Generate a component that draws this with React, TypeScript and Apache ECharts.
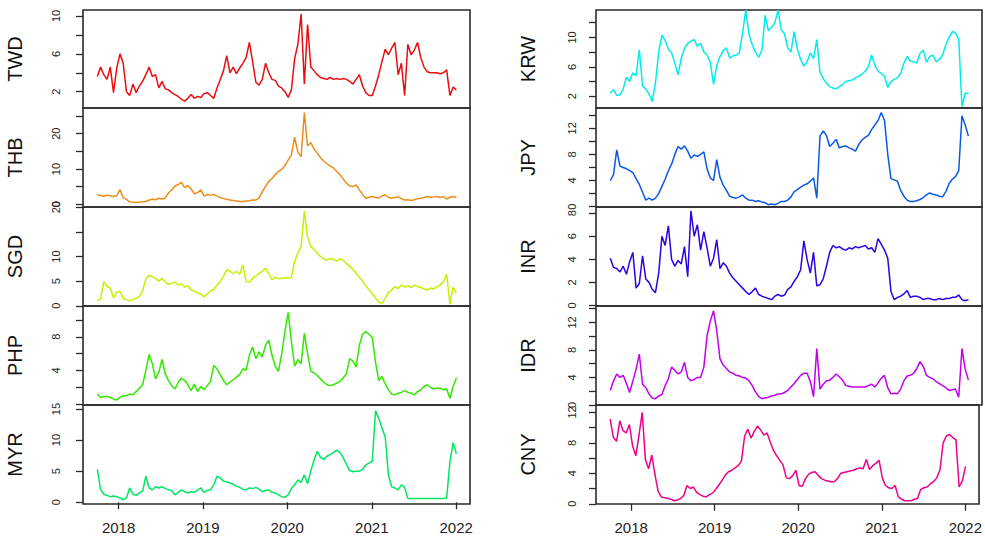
import React, { useEffect, useRef } from "react";
import * as echarts from "echarts";

// ---------- DATA ----------
const DAY = 86400000;
const START = Date.UTC(2017, 9, 1);
const N = 112;
const dates: number[] = Array.from({ length: N }, (_, i) => START + i * 14 * DAY);

const yearTicks = [2018, 2019, 2020, 2021, 2022];

const TWD = [3.6,4.6,3.8,3.3,4.6,1.9,4.5,6.0,5.0,2.0,
1.6,2.8,1.9,2.6,3.1,3.8,4.6,3.6,3.8,2.4,
3.1,2.3,2.2,1.9,1.7,1.5,1.2,1.0,1.3,1.7,
1.3,1.5,1.4,1.8,1.9,1.6,1.3,2.4,3.3,4.2,
5.8,4.0,4.6,3.9,4.5,5.0,5.6,7.2,5.2,3.0,
2.7,3.3,5.0,4.0,3.3,3.2,2.6,2.4,2.0,1.4,
2.2,5.5,7.0,10.2,2.8,9.1,4.6,4.2,3.8,3.5,
3.4,3.3,3.5,3.3,3.4,3.3,3.4,3.3,3.1,2.8,
3.3,3.8,2.6,1.9,1.6,1.6,2.6,3.8,5.2,6.5,
5.9,6.6,7.2,3.8,5.0,1.6,7.0,5.9,6.4,7.2,
5.6,4.6,4.1,4.0,4.0,4.0,3.9,4.0,4.3,1.6,
2.5,2.2];

const THB = [2.7,2.5,2.3,2.6,2.4,2.2,2.4,4.2,1.8,1.4,
0.7,0.6,0.5,0.6,0.7,0.8,1.2,1.4,1.3,1.7,
1.5,1.8,3.2,4.1,5.2,5.6,6.2,4.7,5.3,4.3,
3.0,3.3,4.1,2.3,2.8,2.6,2.8,2.3,1.9,1.6,
1.4,1.2,1.1,0.9,0.8,0.8,0.9,1.0,1.2,1.2,
1.8,3.6,5.1,6.5,7.3,8.4,9.3,9.9,11.0,12.5,
14.0,19.0,14.8,13.5,26.0,16.5,17.5,15.6,14.5,13.2,
12.2,11.5,10.8,10.3,9.3,8.4,7.2,6.0,5.2,5.0,
5.5,4.1,2.8,1.7,2.0,2.2,1.9,1.8,2.4,2.7,
2.0,1.7,1.9,2.1,1.6,1.2,1.3,1.1,1.3,1.6,
1.7,1.9,2.2,2.0,2.1,2.2,1.9,2.2,1.5,2.0,
2.2,2.0];

const SGD = [1.0,1.4,4.9,3.9,3.6,1.6,2.8,2.9,1.5,1.2,
1.0,1.3,1.5,1.9,3.0,5.5,6.2,5.9,5.5,5.0,
5.6,4.8,4.3,4.6,4.8,4.2,4.5,3.8,4.0,3.3,
2.9,2.6,2.4,1.8,2.4,3.0,3.3,4.2,4.9,6.0,
7.3,7.0,6.5,7.0,6.4,8.3,4.9,4.8,5.6,6.0,
6.6,7.0,7.6,6.5,5.3,5.8,5.5,5.6,5.7,5.6,
5.8,9.0,10.8,12.0,19.2,14.0,12.0,11.5,10.6,10.0,
9.5,9.3,9.6,9.4,9.0,9.5,9.3,8.6,8.0,7.4,
6.6,5.8,5.0,4.0,3.3,2.4,1.6,0.7,0.5,1.5,
2.7,3.2,3.9,3.5,4.2,3.8,4.1,3.7,4.2,3.9,
3.7,3.4,3.2,3.6,3.4,3.9,4.2,4.9,6.4,0.3,
3.8,2.6];

const PHP = [1.2,0.8,0.9,0.9,0.8,0.6,0.5,0.8,1.0,1.0,
1.2,1.1,1.5,1.9,2.3,4.0,5.9,4.8,3.0,3.8,
5.3,3.6,2.8,2.2,1.8,2.6,3.1,2.8,2.3,1.6,
2.4,1.5,2.1,1.7,2.2,2.7,4.6,4.2,3.5,2.8,
2.3,2.6,2.9,3.2,3.5,4.2,4.0,5.8,6.8,5.4,
6.2,5.6,7.0,7.6,5.8,4.5,3.9,6.0,8.6,10.9,
7.4,4.5,5.3,4.8,8.4,6.0,3.9,3.7,3.4,3.0,
2.6,2.3,2.2,2.3,2.5,2.7,3.1,3.6,5.4,5.1,
4.4,7.0,8.3,8.6,8.3,7.9,5.0,2.8,3.3,2.4,
1.7,1.2,1.1,1.3,1.4,1.6,1.4,1.3,1.1,1.5,
1.7,2.1,2.3,2.0,1.8,1.9,1.9,1.7,1.8,0.7,
2.1,3.1];

const MYR = [5.3,2.0,1.3,1.1,0.9,1.0,0.9,0.7,0.4,0.7,
2.3,1.3,1.1,1.5,1.8,4.2,2.3,2.0,2.5,2.3,
2.5,2.2,2.0,1.9,1.2,1.6,2.0,1.7,1.5,1.7,
1.6,2.0,2.3,1.6,1.9,2.0,2.8,4.2,3.9,3.4,
3.3,3.1,2.9,2.6,2.4,2.1,2.0,2.3,2.2,2.4,
2.1,1.7,1.9,2.0,1.6,1.5,1.2,0.9,0.8,1.2,
2.2,2.8,3.6,3.2,4.4,3.0,5.0,6.8,8.2,7.2,
6.9,7.4,7.7,8.0,8.4,8.0,7.2,6.1,5.1,4.9,
5.0,5.0,5.3,6.0,6.3,6.6,14.7,13.5,12.0,10.5,
4.4,2.5,2.3,2.0,2.8,2.4,0.6,0.6,0.6,0.6,
0.6,0.6,0.6,0.6,0.6,0.6,0.6,0.6,0.7,6.5,
9.6,7.8];

const KRW = [2.4,2.9,2.1,2.2,3.0,4.6,4.0,5.2,4.8,8.3,
3.4,3.0,2.3,1.3,3.8,8.0,10.3,9.6,8.4,7.9,
6.5,4.9,7.2,8.5,9.2,9.5,9.7,8.8,9.2,8.0,
7.6,6.6,3.6,6.2,7.4,8.2,8.6,7.2,7.5,7.6,
7.9,10.6,13.7,10.4,9.0,8.0,7.3,8.3,13.0,10.9,
11.4,12.0,13.7,11.0,10.5,8.6,8.0,10.8,8.4,7.0,
6.1,6.7,7.9,7.1,9.7,5.3,4.4,3.8,3.3,3.1,
3.0,3.3,3.6,4.0,4.1,4.2,4.5,4.7,5.0,5.4,
6.0,7.6,6.2,5.4,5.1,4.7,3.2,4.0,4.3,4.5,
5.1,6.5,7.4,6.8,6.7,6.5,7.8,8.3,6.6,7.4,
7.6,6.7,7.0,7.6,9.0,10.0,10.8,10.6,9.8,0.6,
2.4,2.4];

const JPY = [4.0,4.9,8.7,6.2,6.0,5.8,5.5,5.2,4.3,3.4,
2.2,1.0,1.3,1.0,1.3,2.0,3.1,4.2,5.5,6.5,
8.0,9.2,8.8,9.3,8.5,7.4,7.9,7.7,8.0,8.4,
5.8,4.4,4.0,7.2,4.5,3.3,2.5,1.6,1.4,1.3,
1.5,1.8,1.3,1.0,1.0,0.8,0.9,0.7,0.6,0.3,
0.4,0.3,0.5,0.8,0.8,1.0,1.5,2.3,2.6,3.0,
3.3,3.5,3.9,4.4,1.3,10.8,11.6,10.9,9.2,9.7,
10.3,9.0,9.2,9.3,9.0,8.8,8.5,9.5,10.2,10.6,
10.9,11.8,12.5,13.2,14.4,13.2,8.0,4.3,4.1,3.9,
2.5,1.6,1.0,0.8,0.8,0.9,1.1,1.4,1.8,2.1,
1.9,1.8,1.6,1.5,2.3,3.5,4.2,4.6,5.5,13.9,
12.5,10.8];

const INR = [4.1,3.3,3.2,2.9,3.4,2.7,3.8,4.6,1.5,1.9,
4.3,2.3,2.0,1.4,1.1,2.8,6.0,5.2,6.9,4.0,
3.4,3.9,3.6,5.1,2.5,8.2,6.0,7.0,4.8,6.4,
5.0,3.4,4.1,5.7,3.2,3.7,3.4,2.8,2.4,2.1,
1.8,1.5,1.2,0.95,1.2,1.5,0.95,0.8,0.7,0.6,
0.5,0.8,0.95,0.8,0.9,1.4,1.6,2.1,2.5,3.1,
5.6,4.0,2.8,4.6,1.7,1.8,2.3,3.4,4.6,5.2,
5.0,5.1,4.9,4.8,5.0,4.9,5.1,5.0,5.1,5.2,
4.9,5.0,4.6,5.8,5.3,4.8,4.1,1.2,0.5,0.7,
0.8,1.0,1.3,0.7,0.8,0.8,0.7,0.5,0.6,0.6,
0.5,0.5,0.6,0.5,0.6,0.6,0.7,0.7,0.9,0.5,
0.4,0.5];

const IDR = [2.1,3.5,4.5,4.0,4.3,3.1,1.8,3.5,5.2,7.4,
3.0,2.5,1.6,1.0,0.9,1.3,1.5,2.8,3.8,5.5,
5.0,4.5,4.8,6.2,4.0,3.5,3.7,4.0,4.0,5.5,
10.1,12.2,13.7,10.8,6.7,5.8,5.3,4.8,4.6,4.3,
4.2,4.0,3.9,3.5,2.8,1.9,1.2,0.9,1.0,1.1,
1.3,1.4,1.6,1.6,1.8,2.1,2.6,3.1,3.7,4.3,
4.6,4.6,3.4,1.2,8.2,2.3,3.0,3.5,3.6,4.0,
4.5,4.1,3.6,2.8,2.7,2.6,2.6,2.6,2.6,2.6,
2.8,3.0,2.6,3.2,3.9,4.3,2.5,1.6,1.7,1.6,
2.3,3.5,4.2,4.3,4.6,5.3,6.3,5.6,4.3,4.0,
3.8,3.4,3.1,2.8,2.5,2.1,2.2,2.3,1.1,8.2,
5.2,3.6];

const CNY = [11.1,8.7,8.2,10.9,9.6,9.3,10.4,7.6,6.3,9.0,
12.0,5.8,4.6,6.4,3.8,1.6,0.9,0.8,0.7,0.6,
0.4,0.5,0.7,1.1,2.4,2.0,2.2,1.5,1.2,1.0,
0.9,1.2,1.4,1.9,2.5,3.1,3.8,4.2,4.4,4.7,
5.0,5.6,8.9,9.8,8.6,9.5,10.2,9.7,9.0,9.3,
8.1,7.0,6.3,5.7,5.1,3.4,3.3,3.7,4.4,2.4,
2.3,3.3,3.9,4.1,4.2,3.7,3.3,3.1,3.0,2.9,
2.9,3.3,4.0,4.1,4.2,4.3,4.4,4.6,4.7,4.6,
5.8,4.5,5.0,5.3,5.7,3.4,2.4,2.1,2.0,2.4,
0.9,0.6,0.4,0.4,0.4,0.6,0.7,1.9,2.1,2.2,
2.6,2.9,3.4,4.4,8.0,8.9,9.1,8.7,8.4,2.2,
3.0,4.9];

// axis ticks / labels per panel
const twdTicks = [2, 4, 6, 8, 10], twdLabels = [2, 6, 10];
const thbTicks = [0, 5, 10, 15, 20, 25], thbLabels = [0, 10, 20];
const sgdTicks = [0, 5, 10, 15, 20], sgdLabels = [0, 5, 10, 20];
const phpTicks = [0, 2, 4, 6, 8, 10], phpLabels = [4, 8];
const myrTicks = [0, 5, 10, 15], myrLabels = [0, 5, 10, 15];
const krwTicks = [2, 4, 6, 8, 10, 12], krwLabels = [2, 6, 10];
const jpyTicks = [0, 2, 4, 6, 8, 10, 12, 14], jpyLabels = [0, 4, 8, 12];
const inrTicks = [0, 2, 4, 6, 8], inrLabels = [0, 2, 4, 6, 8];
const idrTicks = [0, 2, 4, 6, 8, 10, 12, 14], idrLabels = [0, 4, 8, 12];
const cnyTicks = [0, 2, 4, 6, 8, 10, 12], cnyLabels = [0, 4, 8, 12];

type Panel = {
  name: string; values: number[]; color: string; min: number; max: number;
  ticks: number[]; labels: number[]; col: number; row: number;
};

const panels: Panel[] = [
  { name: "TWD", values: TWD, color: "#ea0c10", min: 0.28, max: 10.63, ticks: twdTicks, labels: twdLabels, col: 0, row: 0 },
  { name: "THB", values: THB, color: "#ee8c18", min: -0.77, max: 27.3, ticks: thbTicks, labels: thbLabels, col: 0, row: 1 },
  { name: "SGD", values: SGD, color: "#c6f000", min: -0.05, max: 20.05, ticks: sgdTicks, labels: sgdLabels, col: 0, row: 2 },
  { name: "PHP", values: PHP, color: "#33e800", min: -0.1, max: 11.65, ticks: phpTicks, labels: phpLabels, col: 0, row: 3 },
  { name: "MYR", values: MYR, color: "#00e862", min: -0.28, max: 15.65, ticks: myrTicks, labels: myrLabels, col: 0, row: 4 },
  { name: "KRW", values: KRW, color: "#00ecec", min: 0.4, max: 13.73, ticks: krwTicks, labels: krwLabels, col: 1, row: 0 },
  { name: "JPY", values: JPY, color: "#0a58e8", min: -0.05, max: 15.1, ticks: jpyTicks, labels: jpyLabels, col: 1, row: 1 },
  { name: "INR", values: INR, color: "#2e00e8", min: -0.05, max: 8.54, ticks: inrTicks, labels: inrLabels, col: 1, row: 2 },
  { name: "IDR", values: IDR, color: "#c000ee", min: -0.02, max: 14.4, ticks: idrTicks, labels: idrLabels, col: 1, row: 3 },
  { name: "CNY", values: CNY, color: "#ee008c", min: -0.03, max: 12.97, ticks: cnyTicks, labels: cnyLabels, col: 1, row: 4 },
];

const FONT = "'Liberation Sans', Arial, Helvetica, sans-serif";

export default function App() {
  const ref = useRef<HTMLDivElement>(null);
  useEffect(() => {
    if (!ref.current) return;
    const chart = echarts.init(ref.current, undefined, { renderer: "svg" });
    const colLeft = [83, 596];
    const colWidth = [387, 386];
    const rowTop = [10, 108, 207, 306, 405];
    const rowH = [98, 99, 99, 99, 99];
    const xMin = Date.UTC(2017, 6, 31);
    const xMax = Date.UTC(2022, 2, 2);
    const yearVals = yearTicks.map((y) => Date.UTC(y, 0, 1));

    const grid: any[] = [];
    const xAxis: any[] = [];
    const yAxis: any[] = [];
    const series: any[] = [];
    panels.forEach((p, k) => {
      grid.push({
        left: colLeft[p.col], top: rowTop[p.row], width: colWidth[p.col], height: rowH[p.row],
        show: true, borderColor: "#2a2a2a", borderWidth: 1.6, backgroundColor: "transparent",
        containLabel: false,
      });
      const bottom = p.row === 4;
      xAxis.push({
        type: "value", gridIndex: k, min: xMin, max: xMax, show: bottom,
        axisLine: { show: false },
        splitLine: { show: false },
        axisTick: { show: bottom, length: 7, customValues: yearVals, lineStyle: { color: "#2a2a2a", width: 1.3 } },
        axisLabel: {
          show: bottom, customValues: yearVals, fontSize: 15, color: "#222", fontFamily: FONT, margin: 16,
          formatter: (v: number) => String(new Date(v).getUTCFullYear()),
        },
      });
      yAxis.push({
        type: "value", gridIndex: k, min: p.min, max: p.max,
        name: p.name, nameLocation: "middle", nameRotate: 90, nameGap: 58,
        nameTextStyle: { fontSize: 20, color: "#111", fontFamily: FONT },
        axisLine: { show: false },
        splitLine: { show: false },
        axisTick: { show: true, length: 7, customValues: p.ticks, lineStyle: { color: "#2a2a2a", width: 1.3 } },
        axisLabel: {
          customValues: p.labels, rotate: 90, fontSize: 11, color: "#222", fontFamily: FONT,
          margin: p.col === 0 ? 22 : 19,
        },
      });
      series.push({
        type: "line", xAxisIndex: k, yAxisIndex: k, showSymbol: false, clip: true,
        data: dates.map((d, i) => [d, p.values[i]]),
        lineStyle: { color: p.color, width: 1.5 },
        itemStyle: { color: p.color },
      });
    });

    chart.setOption({
      animation: false,
      backgroundColor: "#ffffff",
      grid, xAxis, yAxis, series,
    });
    return () => chart.dispose();
  }, []);
  return (
    <div
      ref={ref}
      style={{ position: "absolute", left: 0, top: 0, width: 985, height: 540 }}
    />
  );
}
